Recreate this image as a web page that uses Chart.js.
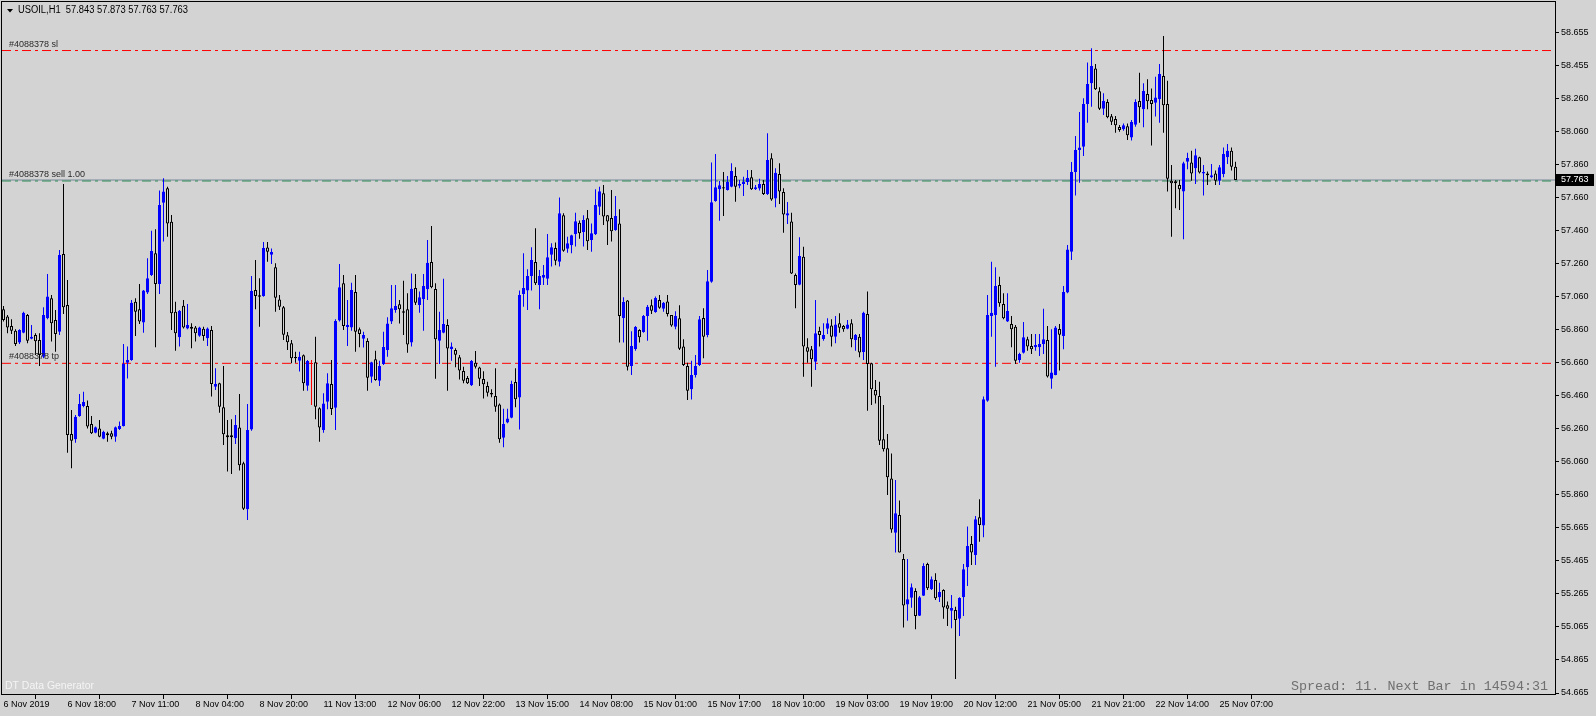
<!DOCTYPE html>
<html lang="en">
<head>
<meta charset="UTF-8">
<title>USOIL,H1</title>
<script src="https://cdn.jsdelivr.net/npm/chart.js"></script>
<style>
  * { margin: 0; padding: 0; box-sizing: border-box; }
  body { background: #d3d3d3; width: 1596px; height: 716px; overflow: hidden; }
  canvas { display: block; }
</style>
</head>
<body>
<canvas id="chart" width="1596" height="716"></canvas>
<script>
// header and chart texts
const symbolTitle = 'USOIL,H1  57.843 57.873 57.763 57.763';
const orderTag = '#4088378';
const spreadText = 'Spread: 11. Next Bar in 14594:31';
const generatorText = 'DT Data Generator';

// hourly candles
const opens = [
  56.982,56.938,56.881,56.853,56.781,56.841,56.948,56.805,56.827,56.797,
  56.696,56.928,57.049,56.918,56.847,57.316,57.008,56.229,56.197,56.338,
  56.398,56.398,56.290,56.237,56.263,56.201,56.233,56.233,56.213,56.259,
  56.278,56.660,56.676,57.028,56.982,56.902,57.083,57.190,57.320,57.135,
  57.626,57.713,57.511,56.968,56.813,57.004,56.867,56.877,56.873,56.823,
  56.865,56.807,56.857,56.515,56.535,56.390,56.221,56.221,56.203,56.269,
  56.052,55.774,56.257,57.099,57.067,57.062,57.356,57.312,57.236,57.042,
  56.994,56.825,56.777,56.694,56.672,56.704,56.521,56.652,56.662,56.384,
  56.253,56.424,56.531,56.388,56.914,57.139,56.875,56.873,57.087,56.861,
  56.805,56.791,56.575,56.680,56.551,56.652,56.737,56.908,56.978,57.012,
  56.970,56.982,56.781,57.111,57.008,57.043,57.103,57.268,57.105,56.793,
  56.841,56.888,56.743,56.737,56.692,56.610,56.567,56.523,56.660,56.630,
  56.561,56.519,56.477,56.459,56.408,56.207,56.298,56.328,56.543,56.449,
  57.075,57.095,57.183,57.268,57.129,57.173,57.167,57.312,57.352,57.270,
  57.550,57.348,57.369,57.437,57.505,57.449,57.532,57.401,57.435,57.602,
  57.683,57.550,57.534,57.461,57.501,56.930,57.036,56.640,56.742,56.857,
  56.845,56.942,57.006,56.966,57.038,56.986,57.030,56.948,56.877,56.928,
  56.757,56.640,56.499,56.585,56.646,56.930,56.827,57.149,57.636,57.707,
  57.719,57.703,57.723,57.787,57.729,57.739,57.751,57.779,57.707,57.711,
  57.739,57.678,57.894,57.652,57.799,57.691,57.548,57.513,57.189,57.131,
  57.300,56.753,56.741,56.666,56.851,56.803,56.865,56.885,56.817,56.898,
  56.881,56.865,56.898,56.797,56.817,56.724,56.954,56.656,56.495,56.459,
  56.197,56.143,55.961,55.633,55.740,55.474,55.199,55.241,55.281,55.132,
  55.253,55.444,55.291,55.348,55.243,55.287,55.195,55.162,55.166,55.114,
  55.243,55.424,55.565,55.499,55.726,55.676,56.430,56.942,56.948,57.129,
  57.014,56.908,56.894,56.877,56.676,56.720,56.801,56.761,56.753,56.753,
  56.773,56.797,56.563,56.586,56.863,56.821,57.083,57.330,57.811,57.944,
  57.964,58.222,58.347,58.437,58.299,58.194,58.234,58.148,58.132,58.083,
  58.069,58.087,58.019,58.097,58.240,58.190,58.283,58.246,58.230,58.250,
  58.391,58.222,57.759,57.755,57.733,57.693,57.874,57.868,57.834,57.900,
  57.803,57.803,57.779,57.803,57.759,57.800,57.900,57.940,57.843
];
const highs = [
  57.002,56.948,56.922,56.861,56.861,56.968,56.954,56.888,56.837,56.837,
  56.994,57.196,57.069,56.978,57.340,57.739,57.159,56.374,56.344,56.471,
  56.485,56.431,56.338,56.274,56.314,56.249,56.243,56.249,56.274,56.304,
  56.773,56.757,57.039,57.049,57.135,57.099,57.290,57.457,57.465,57.699,
  57.773,57.723,57.552,57.028,56.978,57.039,57.014,56.898,56.881,56.877,
  56.877,56.873,56.881,56.626,56.539,56.640,56.314,56.318,56.344,56.471,
  56.062,56.410,57.183,57.280,57.169,57.389,57.389,57.350,57.260,57.069,
  57.002,56.845,56.797,56.726,56.726,56.710,56.676,56.676,56.817,56.390,
  56.475,56.596,56.676,56.922,57.256,57.189,57.038,57.143,57.189,56.873,
  56.847,56.807,56.666,56.732,56.672,56.847,56.934,57.129,57.129,57.038,
  57.155,57.079,57.199,57.195,57.089,57.195,57.401,57.485,57.139,56.968,
  57.167,56.922,56.781,56.747,56.706,56.636,56.580,56.676,56.730,56.636,
  56.608,56.545,56.499,56.626,56.414,56.382,56.382,56.551,56.626,57.095,
  57.320,57.224,57.357,57.471,57.220,57.250,57.437,57.381,57.385,57.658,
  57.562,57.421,57.433,57.566,57.518,57.550,57.582,57.501,57.707,57.723,
  57.733,57.552,57.703,57.666,57.586,57.055,57.038,56.849,56.881,56.861,
  56.948,57.008,57.042,57.059,57.069,57.026,57.069,56.948,56.970,57.006,
  56.801,56.660,56.672,56.706,56.942,56.988,57.220,57.868,57.920,57.757,
  57.811,57.787,57.864,57.840,57.763,57.783,57.823,57.823,57.733,57.771,
  57.763,58.045,57.924,57.834,57.864,57.713,57.630,57.566,57.199,57.417,
  57.360,56.807,56.761,57.038,56.877,56.898,56.928,56.922,56.942,56.958,
  56.887,56.918,56.922,56.833,56.833,56.968,57.089,56.660,56.555,56.545,
  56.404,56.229,56.112,55.951,55.827,55.505,55.474,55.327,55.297,55.251,
  55.448,55.452,55.368,55.388,55.331,55.291,55.217,55.257,55.186,55.243,
  55.444,55.670,55.613,55.734,55.835,56.455,57.069,57.270,57.236,57.179,
  57.079,57.079,56.942,56.888,56.720,56.906,56.817,56.833,56.833,56.833,
  56.986,56.881,56.861,56.881,56.894,57.123,57.371,57.872,58.029,58.174,
  58.256,58.472,58.558,58.464,58.323,58.287,58.250,58.162,58.150,58.095,
  58.105,58.105,58.125,58.250,58.411,58.347,58.371,58.315,58.387,58.464,
  58.633,58.363,57.854,57.763,57.763,57.874,57.928,57.940,57.952,57.904,
  57.854,57.814,57.860,57.820,57.854,57.960,57.980,57.960,57.873
];
const lows = [
  56.908,56.837,56.833,56.761,56.773,56.837,56.777,56.801,56.706,56.640,
  56.686,56.922,56.787,56.726,56.827,56.954,56.116,56.022,56.177,56.334,
  56.390,56.263,56.229,56.233,56.209,56.197,56.183,56.197,56.183,56.253,
  56.274,56.565,56.672,56.821,56.894,56.841,57.075,57.183,56.753,57.075,
  57.391,57.421,56.857,56.732,56.757,56.867,56.861,56.747,56.787,56.817,
  56.793,56.761,56.455,56.495,56.358,56.163,56.002,55.988,56.169,56.008,
  55.770,55.710,56.249,56.982,56.877,57.058,57.270,57.256,56.968,56.978,
  56.797,56.737,56.656,56.660,56.606,56.491,56.491,56.404,56.318,56.183,
  56.237,56.378,56.344,56.253,56.908,56.857,56.761,56.853,56.726,56.753,
  56.751,56.491,56.539,56.551,56.519,56.646,56.696,56.893,56.962,56.897,
  56.827,56.720,56.757,57.008,56.962,56.853,57.038,57.109,56.563,56.652,
  56.837,56.491,56.672,56.632,56.559,56.535,56.531,56.519,56.624,56.519,
  56.443,56.455,56.451,56.364,56.177,56.149,56.294,56.324,56.390,56.257,
  56.998,56.978,57.095,57.129,56.982,57.129,57.129,57.240,57.248,57.240,
  57.330,57.324,57.320,57.361,57.409,57.361,57.340,57.330,57.431,57.552,
  57.491,57.371,57.391,57.457,56.781,56.781,56.612,56.585,56.732,56.781,
  56.841,56.793,56.954,56.962,56.986,56.968,56.938,56.877,56.861,56.736,
  56.640,56.434,56.438,56.571,56.640,56.686,56.813,57.143,57.632,57.517,
  57.546,57.699,57.719,57.632,57.713,57.666,57.733,57.703,57.703,57.699,
  57.672,57.672,57.638,57.598,57.618,57.445,57.497,57.195,56.988,57.127,
  56.575,56.660,56.515,56.616,56.757,56.793,56.833,56.757,56.777,56.841,
  56.847,56.861,56.753,56.732,56.692,56.676,56.370,56.404,56.414,56.163,
  56.123,55.861,55.633,55.513,55.513,55.060,55.102,55.180,55.050,55.130,
  55.251,55.287,55.287,55.227,55.215,55.114,55.070,55.056,54.750,55.009,
  55.130,55.311,55.438,55.438,55.579,55.605,56.424,56.817,56.636,56.998,
  56.922,56.906,56.753,56.652,56.660,56.716,56.732,56.712,56.732,56.700,
  56.712,56.571,56.503,56.584,56.612,56.741,57.079,57.280,57.669,57.747,
  57.908,58.109,58.206,58.307,58.186,58.156,58.136,58.095,58.049,58.055,
  58.061,58.005,58.001,58.085,58.109,58.081,58.190,57.972,58.146,58.109,
  58.049,57.693,57.421,57.592,57.582,57.405,57.828,57.759,57.739,57.803,
  57.669,57.733,57.773,57.733,57.733,57.780,57.860,57.820,57.763
];
const closes = [
  56.918,56.873,56.853,56.773,56.857,56.962,56.793,56.817,56.789,56.706,
  56.948,57.059,56.898,56.833,57.310,56.994,56.223,56.189,56.334,56.410,
  56.423,56.274,56.233,56.270,56.213,56.243,56.221,56.213,56.270,56.278,
  56.652,56.676,57.022,56.968,56.908,57.095,57.169,57.334,57.135,57.612,
  57.693,57.501,56.958,56.837,56.974,56.873,56.888,56.865,56.837,56.873,
  56.821,56.867,56.531,56.531,56.394,56.227,56.209,56.209,56.284,56.040,
  55.778,56.253,57.093,57.062,57.058,57.352,57.330,57.328,57.052,56.998,
  56.829,56.783,56.686,56.686,56.696,56.535,56.670,56.652,56.394,56.269,
  56.414,56.535,56.380,56.912,57.115,56.881,56.887,57.099,56.847,56.833,
  56.827,56.569,56.662,56.555,56.640,56.755,56.897,56.988,57.002,56.982,
  56.962,56.769,57.107,57.022,57.055,57.123,57.264,57.115,56.801,56.857,
  56.894,56.745,56.757,56.708,56.612,56.551,56.535,56.670,56.636,56.563,
  56.529,56.479,56.467,56.394,56.197,56.290,56.322,56.531,56.439,57.069,
  57.111,57.183,57.280,57.139,57.183,57.189,57.296,57.357,57.276,57.562,
  57.336,57.381,57.429,57.514,57.441,57.522,57.393,57.441,57.612,57.695,
  57.542,57.513,57.453,57.546,56.942,57.026,56.636,56.761,56.875,56.813,
  56.942,56.998,56.974,57.050,56.992,57.022,56.954,56.885,56.942,56.744,
  56.646,56.491,56.585,56.640,56.922,56.817,57.151,57.628,57.719,57.731,
  57.711,57.753,57.817,57.723,57.739,57.753,57.775,57.707,57.719,57.739,
  57.678,57.884,57.646,57.807,57.693,57.554,57.562,57.199,57.129,57.304,
  56.757,56.726,56.680,56.837,56.827,56.827,56.898,56.817,56.891,56.871,
  56.861,56.891,56.801,56.827,56.722,56.962,56.652,56.499,56.461,56.189,
  56.137,55.968,55.653,55.750,55.513,55.193,55.231,55.303,55.130,55.243,
  55.432,55.297,55.352,55.237,55.275,55.182,55.174,55.178,55.106,55.239,
  55.412,55.553,55.513,55.714,55.680,56.439,56.948,56.962,57.123,57.018,
  56.928,56.972,56.861,56.672,56.712,56.813,56.757,56.741,56.767,56.773,
  56.801,56.576,56.600,56.873,56.829,57.087,57.344,57.811,57.944,57.960,
  58.222,58.343,58.452,58.311,58.194,58.240,58.142,58.115,58.093,58.065,
  58.093,58.033,58.113,58.234,58.202,58.301,58.238,58.222,58.262,58.403,
  58.214,57.771,57.743,57.743,57.707,57.864,57.896,57.803,57.912,57.809,
  57.811,57.791,57.791,57.759,57.840,57.920,57.940,57.843,57.763
];

// time axis: one label every 16 bars
const timeLabels = [
  '6 Nov 2019', '6 Nov 18:00', '7 Nov 11:00', '8 Nov 04:00', '8 Nov 20:00',
  '11 Nov 13:00', '12 Nov 06:00', '12 Nov 22:00', '13 Nov 15:00', '14 Nov 08:00',
  '15 Nov 01:00', '15 Nov 17:00', '18 Nov 10:00', '19 Nov 03:00', '19 Nov 19:00',
  '20 Nov 12:00', '21 Nov 05:00', '21 Nov 21:00', '22 Nov 14:00', '25 Nov 07:00'
];
const labelEvery = 16;

// price axis labels, bottom to top
const priceLabels = [
  '54.665', '54.865', '55.065', '55.265', '55.465', '55.665', '55.860',
  '56.060', '56.260', '56.460', '56.660', '56.860', '57.060', '57.260',
  '57.460', '57.660', '57.860', '58.060', '58.260', '58.455', '58.655'
];
const priceStep = 0.1995;

// order levels
const slLevel = 58.545;
const sellLevel = 57.757;
const tpLevel = 56.656;
const bidPrice = 57.763;

const BULL = '#0000ff', BEAR = '#000000', BG = '#d3d3d3', DOJI = '#ff0000';
const xMin = -0.375;
const xMax = xMin + 1553 / 4;

const idx = opens.map((_, i) => i);
const isUp = i => closes[i] > opens[i];
const isDoji = i => closes[i] === opens[i];

function levelLine(value, color, dash) {
  return {
    type: 'line',
    data: [{ x: xMin, y: value }, { x: xMax, y: value }],
    borderColor: color,
    borderWidth: 1,
    borderDash: dash,
    pointRadius: 0,
    order: 2
  };
}

function fitText(ctx, text, x, y, font, color, width) {
  ctx.save();
  ctx.font = font;
  ctx.fillStyle = color;
  ctx.textAlign = 'left';
  ctx.textBaseline = 'middle';
  const w = ctx.measureText(text).width;
  ctx.translate(x, y);
  if (width) ctx.scale(width / w, 1);
  ctx.fillText(text, 0, 0);
  ctx.restore();
}

// no extra room for half tick labels, the plot runs to the frame
function noEdgePadding(s) {
  s.paddingTop = 0;
  s.paddingBottom = 0;
  s.paddingLeft = 0;
  s.paddingRight = 0;
}

const overlay = {
  id: 'overlay',
  beforeDraw(chart) {
    const ctx = chart.ctx;
    ctx.save();
    ctx.fillStyle = BG;
    ctx.fillRect(0, 0, chart.width, chart.height);
    ctx.restore();
  },
  afterDraw(chart) {
    const ctx = chart.ctx;
    const a = chart.chartArea;
    const y = chart.scales.y;

    // frame
    ctx.save();
    ctx.strokeStyle = '#000';
    ctx.lineWidth = 1;
    ctx.strokeRect(a.left - 0.5, a.top - 0.5, a.right - a.left + 1, a.bottom - a.top + 1);

    // title
    ctx.fillStyle = '#000';
    ctx.beginPath();
    ctx.moveTo(7, 9);
    ctx.lineTo(13, 9);
    ctx.lineTo(10, 12.5);
    ctx.closePath();
    ctx.fill();
    ctx.restore();
    fitText(ctx, symbolTitle, 18, 10.5, '10px "Liberation Sans"', '#000', 170);

    // order labels
    ctx.save();
    ctx.font = '9px "Liberation Sans"';
    ctx.fillStyle = '#2a2a2a';
    ctx.textBaseline = 'bottom';
    ctx.fillText(orderTag + ' sl', 9, y.getPixelForValue(slLevel) - 2);
    ctx.fillText(orderTag + ' sell 1.00', 9, y.getPixelForValue(sellLevel) - 2);
    ctx.fillText(orderTag + ' tp', 9, y.getPixelForValue(tpLevel) - 2);

    // bid price box
    const by = y.getPixelForValue(bidPrice);
    ctx.fillStyle = '#000';
    ctx.fillRect(a.right + 1, Math.round(by) - 6, 38, 12);
    ctx.fillStyle = '#fff';
    ctx.textBaseline = 'middle';
    ctx.fillText(bidPrice.toFixed(3), a.right + 6, Math.round(by));
    ctx.restore();

    // footer texts
    fitText(ctx, generatorText, 5, 686, '10.5px "Liberation Sans"', '#f4f4f4', 89);
    fitText(ctx, spreadText, 1291, 687, '13px "Liberation Mono"', '#707070', 257);
  }
};

Chart.defaults.font.family = '"Liberation Sans", Arial, sans-serif';
Chart.defaults.font.size = 9;
Chart.defaults.color = '#000';

new Chart(document.getElementById('chart'), {
  type: 'bar',
  data: {
    datasets: [
      {
        label: 'body',
        data: idx.map(i => ({ x: i, y: [opens[i], closes[i]] })),
        grouped: false,
        barThickness: 3,
        minBarLength: 1,
        borderWidth: 1,
        borderSkipped: false,
        inflateAmount: 0,
        backgroundColor: c => isUp(c.dataIndex) ? BULL : BG,
        borderColor: c => isUp(c.dataIndex) ? BULL : (isDoji(c.dataIndex) ? DOJI : BEAR),
        order: 0
      },
      {
        label: 'wick',
        data: idx.map(i => ({ x: i, y: [lows[i], highs[i]] })),
        grouped: false,
        barThickness: 1,
        borderWidth: 0,
        inflateAmount: 0,
        backgroundColor: c => isDoji(c.dataIndex) ? DOJI : (isUp(c.dataIndex) ? BULL : BEAR),
        order: 1
      },
      levelLine(slLevel, '#ff0000', [9, 4, 3, 4]),
      levelLine(tpLevel, '#ff0000', [9, 4, 3, 4]),
      Object.assign(levelLine(bidPrice, '#778899', []), { order: 3 }),
      levelLine(sellLevel, '#2e8b57', [9, 4, 3, 4])
    ]
  },
  options: {
    responsive: false,
    animation: false,
    events: [],
    layout: { padding: { left: 2, top: 2, right: 0, bottom: 0 } },
    plugins: { legend: { display: false }, tooltip: { enabled: false } },
    scales: {
      x: {
        type: 'linear',
        min: xMin,
        max: xMax,
        offset: false,
        afterBuildTicks: s => { s.ticks = timeLabels.map((_, i) => ({ value: i * labelEvery })); },
        afterFit: s => { s.height = 22; noEdgePadding(s); },
        ticks: {
          autoSkip: false,
          maxRotation: 0,
          align: 'start',
          padding: 0,
          callback: (v, i) => timeLabels[i]
        },
        grid: { drawOnChartArea: false, drawTicks: true, tickLength: 5, color: '#000' },
        border: { display: true, color: '#000' }
      },
      y: {
        type: 'linear',
        position: 'right',
        min: 54.659,
        max: 58.838,
        afterBuildTicks: s => {
          s.ticks = priceLabels.map((_, i) => ({ value: 54.665 + i * priceStep }));
        },
        afterFit: s => { s.width = 41; noEdgePadding(s); },
        ticks: {
          padding: 2,
          callback: (v, i) => priceLabels[i]
        },
        grid: { drawOnChartArea: false, drawTicks: true, tickLength: 4, color: '#000' },
        border: { display: true, color: '#000' }
      }
    }
  },
  plugins: [overlay]
});
</script>
</body>
</html>
